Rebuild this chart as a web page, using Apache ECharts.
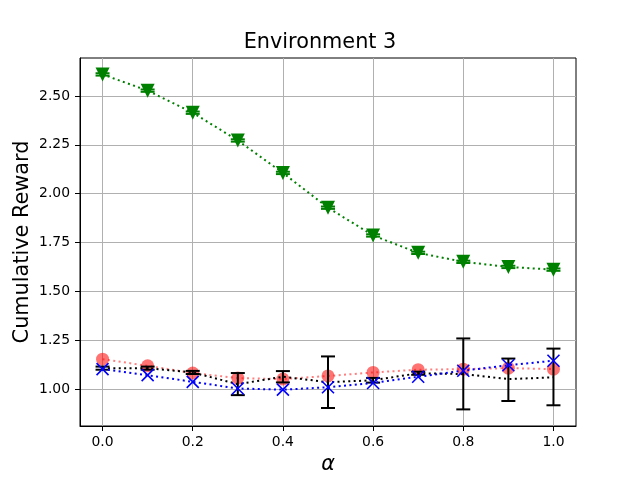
<!DOCTYPE html>
<html>
<head>
<meta charset="utf-8">
<script src="https://cdn.jsdelivr.net/npm/echarts@6/dist/echarts.min.js"></script>
<style>
  html, body { margin: 0; padding: 0; background: #fff; }
  #chart { width: 640px; height: 480px; }
</style>
</head>
<body>
<div id="chart"></div>
<script>
var alphas = [0.0, 0.1, 0.2, 0.3, 0.4, 0.5, 0.6, 0.7, 0.8, 0.9, 1.0];
var xTicks = [0.0, 0.2, 0.4, 0.6, 0.8, 1.0];
var yTicks = [1.00, 1.25, 1.50, 1.75, 2.00, 2.25, 2.50];

var redVals = [1.153, 1.119, 1.082, 1.056, 1.051, 1.067, 1.085, 1.099, 1.102, 1.107, 1.102];
var blueVals = [1.102, 1.071, 1.037, 1.003, 0.997, 1.009, 1.031, 1.063, 1.094, 1.122, 1.145];
var blackVals = [1.107, 1.107, 1.085, 1.025, 1.063, 1.035, 1.045, 1.081, 1.077, 1.051, 1.060];
var blackLow = [1.099, 1.099, 1.077, 0.969, 1.034, 0.903, 1.033, 1.073, 0.896, 0.939, 0.917];
var blackHigh = [1.115, 1.115, 1.093, 1.082, 1.092, 1.167, 1.057, 1.089, 1.259, 1.156, 1.207];
var greenVals = [2.610, 2.527, 2.414, 2.272, 2.106, 1.928, 1.786, 1.697, 1.651, 1.625, 1.611];
var greenLow = [2.604, 2.521, 2.408, 2.266, 2.100, 1.922, 1.780, 1.691, 1.645, 1.619, 1.605];
var greenHigh = [2.616, 2.533, 2.420, 2.278, 2.112, 1.934, 1.792, 1.703, 1.657, 1.631, 1.617];

var FONT = 'DejaVu Sans';

function pairs(vals) {
    return alphas.map(function (a, i) { return [a, vals[i]]; });
}

function errData(low, high) {
    return alphas.map(function (a, i) { return [a, low[i], high[i]]; });
}

function errSeries(low, high, color, z) {
    return {
        type: 'custom',
        z: z,
        silent: true,
        data: errData(low, high),
        encode: { x: 0, y: [1, 2] },
        renderItem: function (params, api) {
            var x = api.value(0);
            var lo = api.coord([x, api.value(1)]);
            var hi = api.coord([x, api.value(2)]);
            var cap = 7;
            var style = { stroke: color, lineWidth: 2 };
            return {
                type: 'group',
                children: [
                    { type: 'line', shape: { x1: lo[0], y1: lo[1], x2: hi[0], y2: hi[1] }, style: style },
                    { type: 'line', shape: { x1: lo[0] - cap, y1: lo[1], x2: lo[0] + cap, y2: lo[1] }, style: style },
                    { type: 'line', shape: { x1: hi[0] - cap, y1: hi[1], x2: hi[0] + cap, y2: hi[1] }, style: style }
                ]
            };
        }
    };
}

var dotted = [2, 3.4];

var chart = echarts.init(document.getElementById('chart'));
var option = {
    animation: false,
    title: {
        text: 'Environment 3',
        left: 'center',
        top: 32,
        padding: [0, 0, 0, 16],
        textStyle: { fontFamily: FONT, fontSize: 20.8, fontWeight: 'normal', color: '#000' }
    },
    grid: {
        left: 80, right: 64, top: 58, bottom: 53,
        show: true, borderColor: '#000', borderWidth: 1, backgroundColor: '#fff'
    },
    xAxis: {
        type: 'value',
        min: -0.05, max: 1.05,
        name: 'α',
        nameLocation: 'middle',
        nameGap: 28,
        nameMoveOverlap: false,
        nameTextStyle: { fontFamily: FONT, fontSize: 20.8, fontStyle: 'italic', color: '#000' },
        axisLine: { show: true, onZero: false, lineStyle: { color: '#000', width: 1 } },
        axisTick: { show: true, length: 5, lineStyle: { color: '#000' }, customValues: xTicks },
        axisLabel: {
            customValues: xTicks, margin: 9,
            fontFamily: FONT, fontSize: 13.9, color: '#000',
            formatter: function (v) { return v.toFixed(1); }
        },
        splitLine: { show: true, lineStyle: { color: '#b0b0b0', width: 1 } }
    },
    yAxis: {
        type: 'value',
        min: 0.811, max: 2.694,
        name: 'Cumulative Reward',
        nameLocation: 'middle',
        nameGap: 47,
        nameMoveOverlap: false,
        nameTextStyle: { fontFamily: FONT, fontSize: 20.8, color: '#000' },
        axisLine: { show: true, onZero: false, lineStyle: { color: '#000', width: 1 } },
        axisTick: { show: true, length: 5, lineStyle: { color: '#000' }, customValues: yTicks },
        axisLabel: {
            customValues: yTicks, margin: 10,
            fontFamily: FONT, fontSize: 13.9, color: '#000',
            formatter: function (v) { return v.toFixed(2); }
        },
        splitLine: { show: true, lineStyle: { color: '#b0b0b0', width: 1 } }
    },
    series: [
        {
            type: 'line', z: 2,
            data: pairs(redVals),
            symbol: 'circle', symbolSize: 13,
            lineStyle: { color: 'rgba(255,0,0,0.5)', width: 2, type: dotted },
            itemStyle: { color: 'rgba(255,0,0,0.55)' }
        },
        {
            type: 'line', z: 3,
            data: pairs(blackVals),
            symbol: 'none',
            lineStyle: { color: '#000', width: 2, type: dotted }
        },
        errSeries(blackLow, blackHigh, '#000', 4),
        {
            type: 'line', z: 5,
            data: pairs(blueVals),
            symbol: 'path://M0,0L10,10M10,0L0,10', symbolSize: 12,
            lineStyle: { color: '#0000ff', width: 2, type: dotted },
            itemStyle: { color: '#0000ff', borderColor: '#0000ff', borderWidth: 1.6 }
        },
        {
            type: 'line', z: 6,
            data: pairs(greenVals),
            symbol: 'triangle', symbolRotate: 180, symbolSize: 14,
            lineStyle: { color: '#008000', width: 2, type: dotted },
            itemStyle: { color: '#008000' }
        },
        errSeries(greenLow, greenHigh, '#008000', 7)
    ]
};
chart.setOption(option);
</script>
</body>
</html>
